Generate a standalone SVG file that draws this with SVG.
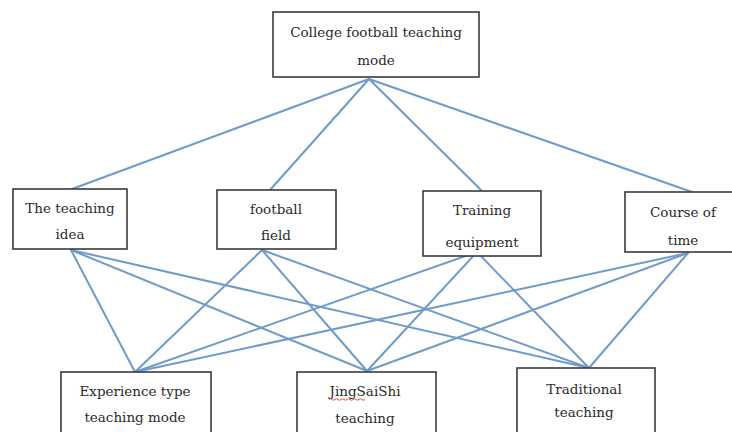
<svg xmlns="http://www.w3.org/2000/svg" width="732" height="432" viewBox="0 0 732 432">
<style>
.box{fill:#fff;stroke:#3a3a3a;stroke-width:1.6}
.lbl{font-family:"DejaVu Serif",serif;font-size:13.5px;fill:#2a2a2a;text-anchor:middle}
.conn line{stroke:#6f9bc8;stroke-width:2;stroke-linecap:round}
</style>
<rect width="732" height="432" fill="#fff"/>
<g id="connectors" class="conn">
<line x1="369" y1="79" x2="72" y2="189"/>
<line x1="369" y1="79" x2="270" y2="190"/>
<line x1="369" y1="79" x2="482" y2="191"/>
<line x1="369" y1="79" x2="692" y2="192"/>
<line x1="71" y1="250" x2="135" y2="372"/>
<line x1="71" y1="250" x2="367" y2="371"/>
<line x1="71" y1="250" x2="589" y2="368"/>
<line x1="262" y1="250" x2="135" y2="372"/>
<line x1="262" y1="250" x2="367" y2="371"/>
<line x1="262" y1="250" x2="589" y2="368"/>
<line x1="477" y1="252" x2="135" y2="372"/>
<line x1="477" y1="252" x2="367" y2="371"/>
<line x1="477" y1="252" x2="589" y2="368"/>
<line x1="688" y1="253" x2="135" y2="372"/>
<line x1="688" y1="253" x2="367" y2="371"/>
<line x1="688" y1="253" x2="589" y2="368"/>
</g>
<g id="node-top">
<rect class="box" x="273" y="12" width="206" height="65"/>
<text class="lbl" x="376" y="37">College football teaching</text>
<text class="lbl" x="376" y="65">mode</text>
</g>
<g id="node-idea">
<rect class="box" x="13" y="189" width="114" height="60"/>
<text class="lbl" x="70" y="213">The teaching</text>
<text class="lbl" x="70" y="239">idea</text>
</g>
<g id="node-field">
<rect class="box" x="217" y="190" width="119" height="59"/>
<text class="lbl" x="276" y="214">football</text>
<text class="lbl" x="276" y="240">field</text>
</g>
<g id="node-equipment">
<rect class="box" x="423" y="191" width="118" height="65"/>
<text class="lbl" x="482" y="215">Training</text>
<text class="lbl" x="482" y="247">equipment</text>
</g>
<g id="node-time">
<rect class="box" x="625" y="192" width="116" height="60"/>
<text class="lbl" x="683" y="217">Course of</text>
<text class="lbl" x="683" y="245">time</text>
</g>
<g id="node-experience">
<rect class="box" x="61" y="372" width="150" height="70"/>
<text class="lbl" x="135" y="396">Experience type</text>
<text class="lbl" x="135" y="422">teaching mode</text>
</g>
<g id="node-jingsaishi">
<rect class="box" x="297" y="372" width="139" height="70"/>
<text class="lbl" x="365" y="396">JingSaiShi</text>
<path d="M329 399.5 q1.5 -1.5 3 0 t3 0 t3 0 t3 0 t3 0 t3 0 t3 0 t3 0 t3 0 t3 0 t3 0 t3 0" fill="none" stroke="#e04040" stroke-width="0.9"/>
<text class="lbl" x="365" y="423">teaching</text>
</g>
<g id="node-traditional">
<rect class="box" x="517" y="368" width="138" height="74"/>
<text class="lbl" x="584" y="394">Traditional</text>
<text class="lbl" x="584" y="417">teaching</text>
</g>
</svg>
